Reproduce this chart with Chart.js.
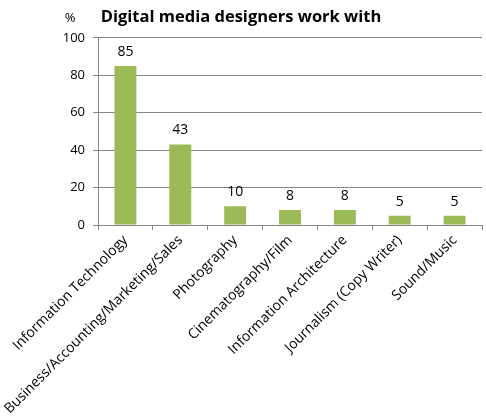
<!DOCTYPE html>
<html>
<head>
<meta charset="utf-8">
<script src="https://cdn.jsdelivr.net/npm/chart.js@4/dist/chart.umd.min.js"></script>
<style>
  body { margin: 0; background: #fff; }
  #wrap { width: 486px; height: 420px; }
</style>
</head>
<body>
<div id="wrap"><canvas id="myChart" width="486" height="420"></canvas></div>
<script>
const categories = [
    'Information Technology',
    'Business/Accounting/Marketing/Sales',
    'Photography',
    'Cinematography/Film',
    'Information Architecture',
    'Journalism (Copy Writer)',
    'Sound/Music'
];
const values = [85, 43, 10, 8, 8, 5, 5];
const yTicks = [0, 20, 40, 60, 80, 100];

const fontFamily = "'Open Sans', 'Liberation Sans', sans-serif";

// value labels above the bars + the "%" unit at top of y axis
const barLabels = {
    id: 'barLabels',
    afterDatasetsDraw(chart) {
        const ctx = chart.ctx;
        ctx.save();
        ctx.font = '14px ' + fontFamily;
        ctx.fillStyle = '#000';
        ctx.textAlign = 'center';
        ctx.textBaseline = 'bottom';
        chart.getDatasetMeta(0).data.forEach((bar, i) => {
            ctx.fillText(values[i], bar.x, bar.y - 7);
        });
        const y = chart.scales.y;
        ctx.font = '13px ' + fontFamily;
        ctx.textAlign = 'center';
        ctx.textBaseline = 'middle';
        ctx.fillText('%', y.left + 70, 18);
        ctx.restore();
    }
};

const ctx = document.getElementById('myChart').getContext('2d');
new Chart(ctx, {
    type: 'bar',
    data: {
        labels: categories,
        datasets: [{
            data: values,
            backgroundColor: '#9bbb59',
            borderWidth: 0,
            barPercentage: 0.8,
            categoryPercentage: 0.5
        }]
    },
    options: {
        responsive: false,
        animation: false,
        layout: { padding: { left: 0, right: 4, top: 0, bottom: 0 } },
        plugins: {
            legend: { display: false },
            tooltip: { enabled: false },
            title: {
                display: true,
                text: 'Digital media designers work with',
                color: '#000',
                font: { family: fontFamily, size: 16.5, weight: 'bold' },
                padding: { top: 7, bottom: 11 }
            }
        },
        scales: {
            x: {
                grid: {
                    offset: true,
                    drawOnChartArea: false,
                    drawTicks: true,
                    tickLength: 5,
                    color: '#868686'
                },
                border: { color: '#868686' },
                ticks: {
                    color: '#000',
                    font: { family: fontFamily, size: 14 },
                    maxRotation: 45,
                    minRotation: 45,
                    autoSkip: false,
                    padding: 2
                },
                afterFit(scale) { scale.height = 195; }
            },
            y: {
                min: 0,
                max: 100,
                afterBuildTicks(scale) {
                    scale.ticks = yTicks.map(v => ({ value: v }));
                },
                grid: {
                    color: '#868686',
                    tickLength: 5
                },
                border: { color: '#868686' },
                ticks: {
                    color: '#000',
                    font: { family: fontFamily, size: 13 },
                    padding: 8
                },
                afterFit(scale) { scale.width = 98; }
            }
        }
    },
    plugins: [barLabels]
});
</script>
</body>
</html>
